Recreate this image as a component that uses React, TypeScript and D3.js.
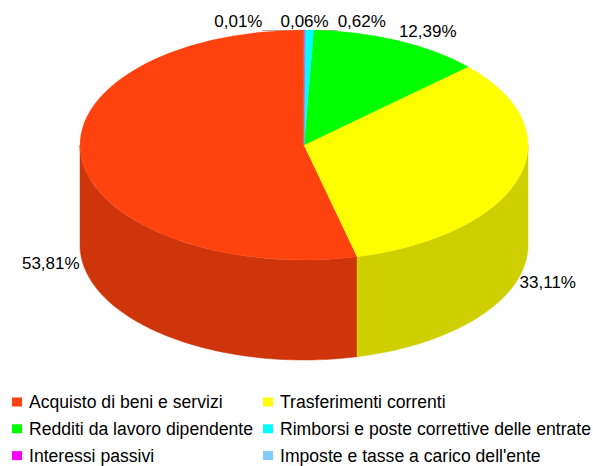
import React from 'react';
import { pie, arc, line } from 'd3';

// spesa per macroaggregato, percentuali
const categories = [
  'Acquisto di beni e servizi',
  'Trasferimenti correnti',
  'Redditi da lavoro dipendente',
  'Rimborsi e poste correttive delle entrate',
  'Interessi passivi',
  "Imposte e tasse a carico dell'ente",
];
const values = [53.81, 33.11, 12.39, 0.62, 0.06, 0.01];
const colors = ['#ff420e', '#ffff00', '#00ff00', '#00ffff', '#ff00ff', '#83caff'];

const width = 593;
const height = 466;
const cx = 304;
const cy = 145;
const rx = 224;
const ry = 115;
const depth = 100;
const font = '"Liberation Sans", Arial, sans-serif';
const labelSize = 17;
const legendSize = 17.6;

const TAU = Math.PI * 2;

const shade = (hex: string, k: number) => {
  const n = parseInt(hex.slice(1), 16);
  const r = Math.round(((n >> 16) & 255) * k);
  const g = Math.round(((n >> 8) & 255) * k);
  const b = Math.round((n & 255) * k);
  return `rgb(${r},${g},${b})`;
};

const fmt = (v: number) => v.toFixed(2).replace('.', ',') + '%';

let ctx: CanvasRenderingContext2D | null = null;
const textWidth = (t: string) => {
  if (!ctx) ctx = document.createElement('canvas').getContext('2d');
  if (!ctx) return t.length * labelSize * 0.56;
  ctx.font = `${labelSize}px ${font}`;
  return ctx.measureText(t).width;
};

// point on the rim, angle clockwise from 12 o'clock
const rim = (a: number, z: number): [number, number] => [
  cx + rx * Math.sin(a),
  cy - ry * Math.cos(a) + z,
];

const App = () => {
  const slices = pie<number>().sort(null).startAngle(0).endAngle(-TAU)(values);
  const topArc = arc<any>().innerRadius(0).outerRadius(rx);
  const path = line();

  // normalized clockwise ranges
  const ranges = slices.map(s => {
    const lo = Math.min(s.startAngle, s.endAngle) + TAU;
    const hi = Math.max(s.startAngle, s.endAngle) + TAU;
    return [lo, hi];
  });

  const sides = ranges.map(([a0, a1], i) => {
    const lo = Math.max(a0, Math.PI / 2);
    const hi = Math.min(a1, (3 * Math.PI) / 2);
    if (lo >= hi) return null;
    const n = 80;
    const pts: [number, number][] = [];
    for (let k = 0; k <= n; k++) pts.push(rim(lo + ((hi - lo) * k) / n, 0));
    for (let k = n; k >= 0; k--) pts.push(rim(lo + ((hi - lo) * k) / n, depth));
    return <path key={i} d={path(pts) + 'Z'} fill={shade(colors[i], 0.81)} stroke={shade(colors[i], 0.81)} strokeWidth={0.5} />;
  });

  // labels
  const labels = ranges.map(([a0, a1], i) => {
    const m = ((a0 + a1) / 2) % TAU;
    const s = Math.sin(m);
    const c = Math.cos(m);
    const front = c < 0;
    const [px, py] = rim(m, front ? depth : 0);
    const text = fmt(values[i]);
    const w = textWidth(text);
    if (Math.abs(s) < 0.15) {
      return { i, text, w, px, py, top: true, x: px - w / 2, y: py - 3 };
    }
    const x = s > 0 ? px + 1 : px - 2 - w;
    return { i, text, w, px, py, top: false, x, y: front ? py + 10 : py - 4 };
  });

  // spread the crowded labels at the top, middle one stays put
  const crowd = labels.filter(l => l.top).sort((a, b) => a.px - b.px);
  const gapRight = 9;
  const gapLeft = 18;
  const mid = Math.floor(crowd.length / 2);
  for (let k = mid + 1; k < crowd.length; k++) crowd[k].x = crowd[k - 1].x + crowd[k - 1].w + gapRight;
  for (let k = mid - 1; k >= 0; k--) crowd[k].x = crowd[k + 1].x - gapLeft - crowd[k].w;

  const leaders = crowd
    .filter((_, k) => k !== mid)
    .map(l => {
      const x1 = l.x + l.w / 2 < l.px ? l.x + l.w : l.x;
      return <line key={l.i} x1={x1} x2={l.px} y1={cy - ry + 0.5} y2={cy - ry + 0.5} stroke="#b3b3b3" strokeWidth={1} />;
    });

  const legendCols = [12, 263];
  const legendTextDx = 17;
  const legendRow0 = 402;
  const legendStep = 26.8;

  return (
    <svg width={width} height={height} style={{ position: 'absolute', left: 0, top: 0, background: '#fff' }}>
      <rect width={width} height={height} fill="#fff" />
      {leaders}
      {sides}
      <g transform={`translate(${cx},${cy}) scale(1,${ry / rx})`}>
        {slices.map((d, i) => (
          <path key={i} d={topArc(d) || ''} fill={colors[i]} stroke={colors[i]} strokeWidth={0.4} />
        ))}
      </g>
      {labels.map(l => (
        <text key={l.i} x={l.x} y={l.y} fontFamily={font} fontSize={labelSize} fill="#000">
          {l.text}
        </text>
      ))}
      {categories.map((name, i) => {
        const x = legendCols[i % 2];
        const y = legendRow0 + Math.floor(i / 2) * legendStep;
        return (
          <g key={name}>
            <rect x={x} y={y - 4.5} width={10} height={9} fill={colors[i]} />
            <text x={x + legendTextDx} y={y + 6} fontFamily={font} fontSize={legendSize} fill="#000">
              {name}
            </text>
          </g>
        );
      })}
    </svg>
  );
};

export default App;
